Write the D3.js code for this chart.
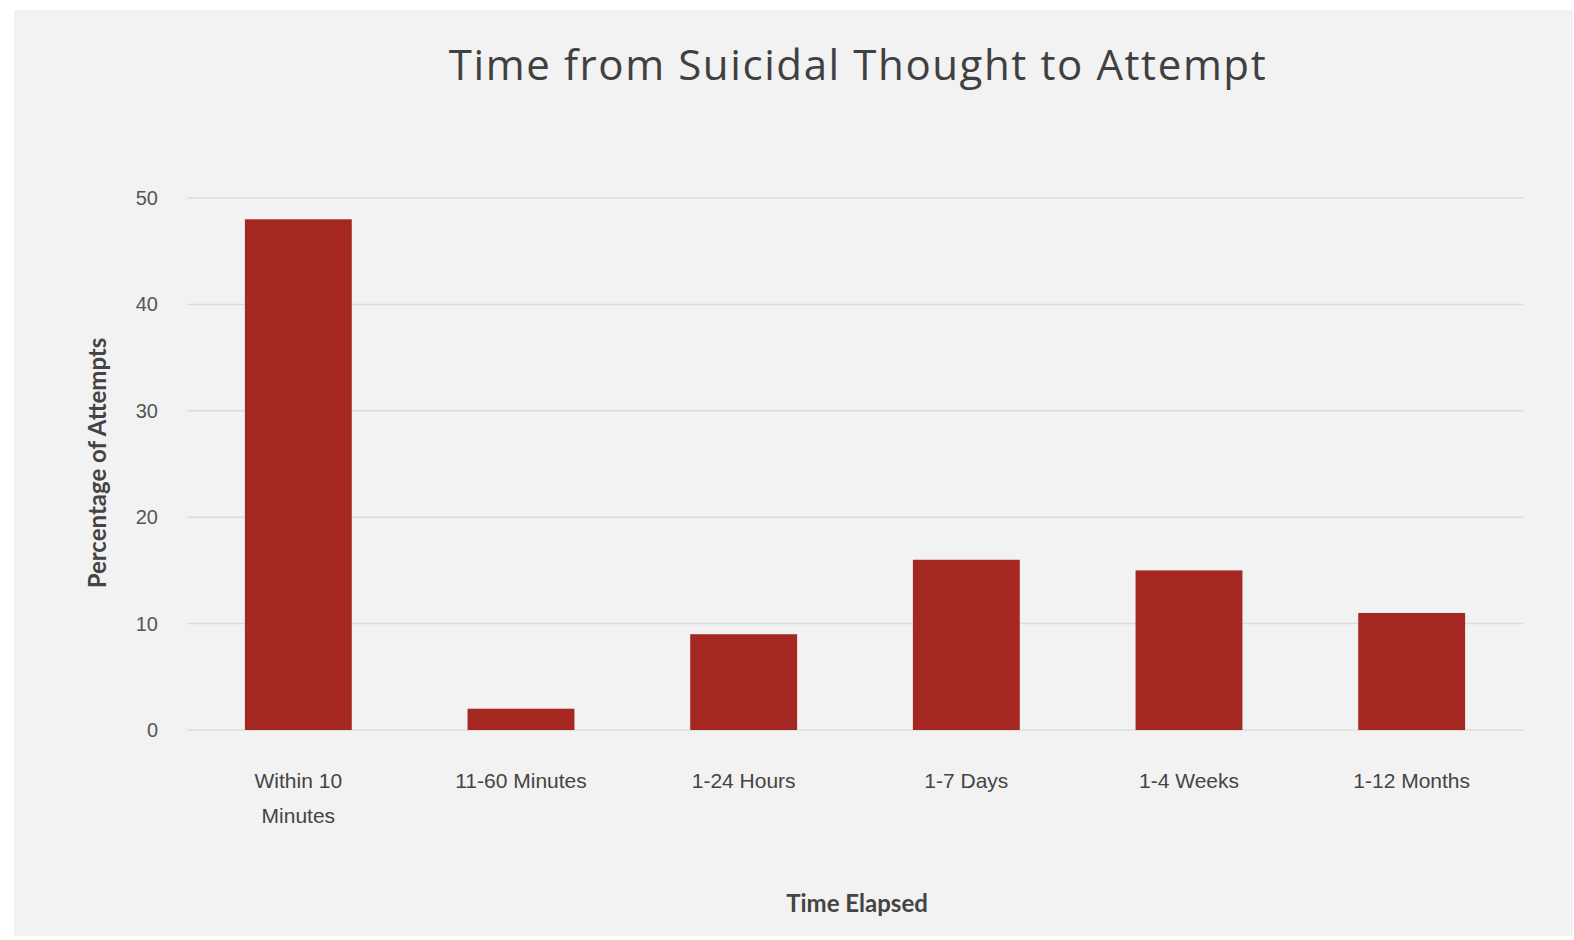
<!DOCTYPE html>
<html>
<head>
<meta charset="utf-8">
<script src="https://cdn.jsdelivr.net/npm/d3@7"></script>
<style>
  html, body { margin: 0; padding: 0; background: #ffffff; overflow: hidden; }
  svg { display: block; }
</style>
</head>
<body>
<svg id="chart"></svg>
<script>
// chart data
const categories = ["Within 10 Minutes", "11-60 Minutes", "1-24 Hours", "1-7 Days", "1-4 Weeks", "1-12 Months"];
const values = [48, 2, 9, 16, 15, 11];
const yTicks = [0, 10, 20, 30, 40, 50];
const titleText = "Time from Suicidal Thought to Attempt";
const xTitle = "Time Elapsed";
const yTitle = "Percentage of Attempts";

const width = 1574;
const height = 940;
const svg = d3.select("#chart")
  .attr("width", width)
  .attr("height", height);

// panel background
svg.append("rect")
  .attr("x", 14).attr("y", 10)
  .attr("width", 1559).attr("height", 926)
  .attr("fill", "#f2f2f2");

const margin = { top: 198, right: 51, bottom: 210, left: 187 };
const innerWidth = width - margin.left - margin.right;
const innerHeight = height - margin.top - margin.bottom;

const g = svg.append("g")
  .attr("transform", `translate(${margin.left},${margin.top})`);

const x = d3.scaleBand()
  .domain(categories)
  .range([0, innerWidth])
  .paddingInner(0.52)
  .paddingOuter(0.26);

const y = d3.scaleLinear()
  .domain([0, 50])
  .range([innerHeight, 0]);

// gridlines
g.append("g")
  .selectAll("line")
  .data(yTicks)
  .join("line")
  .attr("x1", 0).attr("x2", innerWidth)
  .attr("y1", d => y(d)).attr("y2", d => y(d))
  .attr("stroke", "#dcdcdc")
  .attr("stroke-width", 1.5);

// y tick labels
g.append("g")
  .selectAll("text")
  .data(yTicks)
  .join("text")
  .attr("x", -29)
  .attr("y", d => y(d))
  .attr("dy", "0.35em")
  .attr("text-anchor", "end")
  .attr("font-family", "'Liberation Sans', Arial, sans-serif")
  .attr("font-size", "20px")
  .attr("fill", "#555555")
  .text(d => d);

// bars
g.selectAll("rect.bar")
  .data(values)
  .join("rect")
  .attr("class", "bar")
  .attr("x", (d, i) => x(categories[i]))
  .attr("y", d => y(d))
  .attr("width", x.bandwidth())
  .attr("height", d => y(0) - y(d))
  .attr("fill", "#a52722");

// x category labels, wrapped to the band
const wrapWidth = 150;
const labels = g.append("g")
  .attr("transform", `translate(0,${innerHeight})`);

categories.forEach(cat => {
  const cx = x(cat) + x.bandwidth() / 2;
  const t = labels.append("text")
    .attr("text-anchor", "middle")
    .attr("font-family", "'Liberation Sans', Arial, sans-serif")
    .attr("font-size", "21px")
    .attr("fill", "#444444");
  const words = cat.split(" ");
  let lines = [];
  let line = [];
  words.forEach(w => {
    line.push(w);
    t.text(line.join(" "));
    if (t.node().getComputedTextLength() > wrapWidth && line.length > 1) {
      line.pop();
      lines.push(line.join(" "));
      line = [w];
    }
  });
  lines.push(line.join(" "));
  t.text(null);
  lines.forEach((l, i) => {
    t.append("tspan").attr("x", cx).attr("y", 58 + i * 35).text(l);
  });
});

// title
svg.append("text")
  .attr("x", 858)
  .attr("y", 80)
  .attr("text-anchor", "middle")
  .attr("font-family", "'Open Sans', sans-serif")
  .attr("font-size", "42px")
  .attr("letter-spacing", "1.6px")
  .attr("fill", "#404040")
  .text(titleText);

// axis titles
svg.append("text")
  .attr("x", 857)
  .attr("y", 912)
  .attr("text-anchor", "middle")
  .attr("font-family", "Lato, sans-serif")
  .attr("font-weight", "bold")
  .attr("font-size", "24px")
  .attr("fill", "#444444")
  .text(xTitle);

svg.append("text")
  .attr("transform", "translate(106,463) rotate(-90)")
  .attr("text-anchor", "middle")
  .attr("font-family", "Lato, sans-serif")
  .attr("font-weight", "bold")
  .attr("font-size", "24px")
  .attr("fill", "#444444")
  .text(yTitle);
</script>
</body>
</html>
